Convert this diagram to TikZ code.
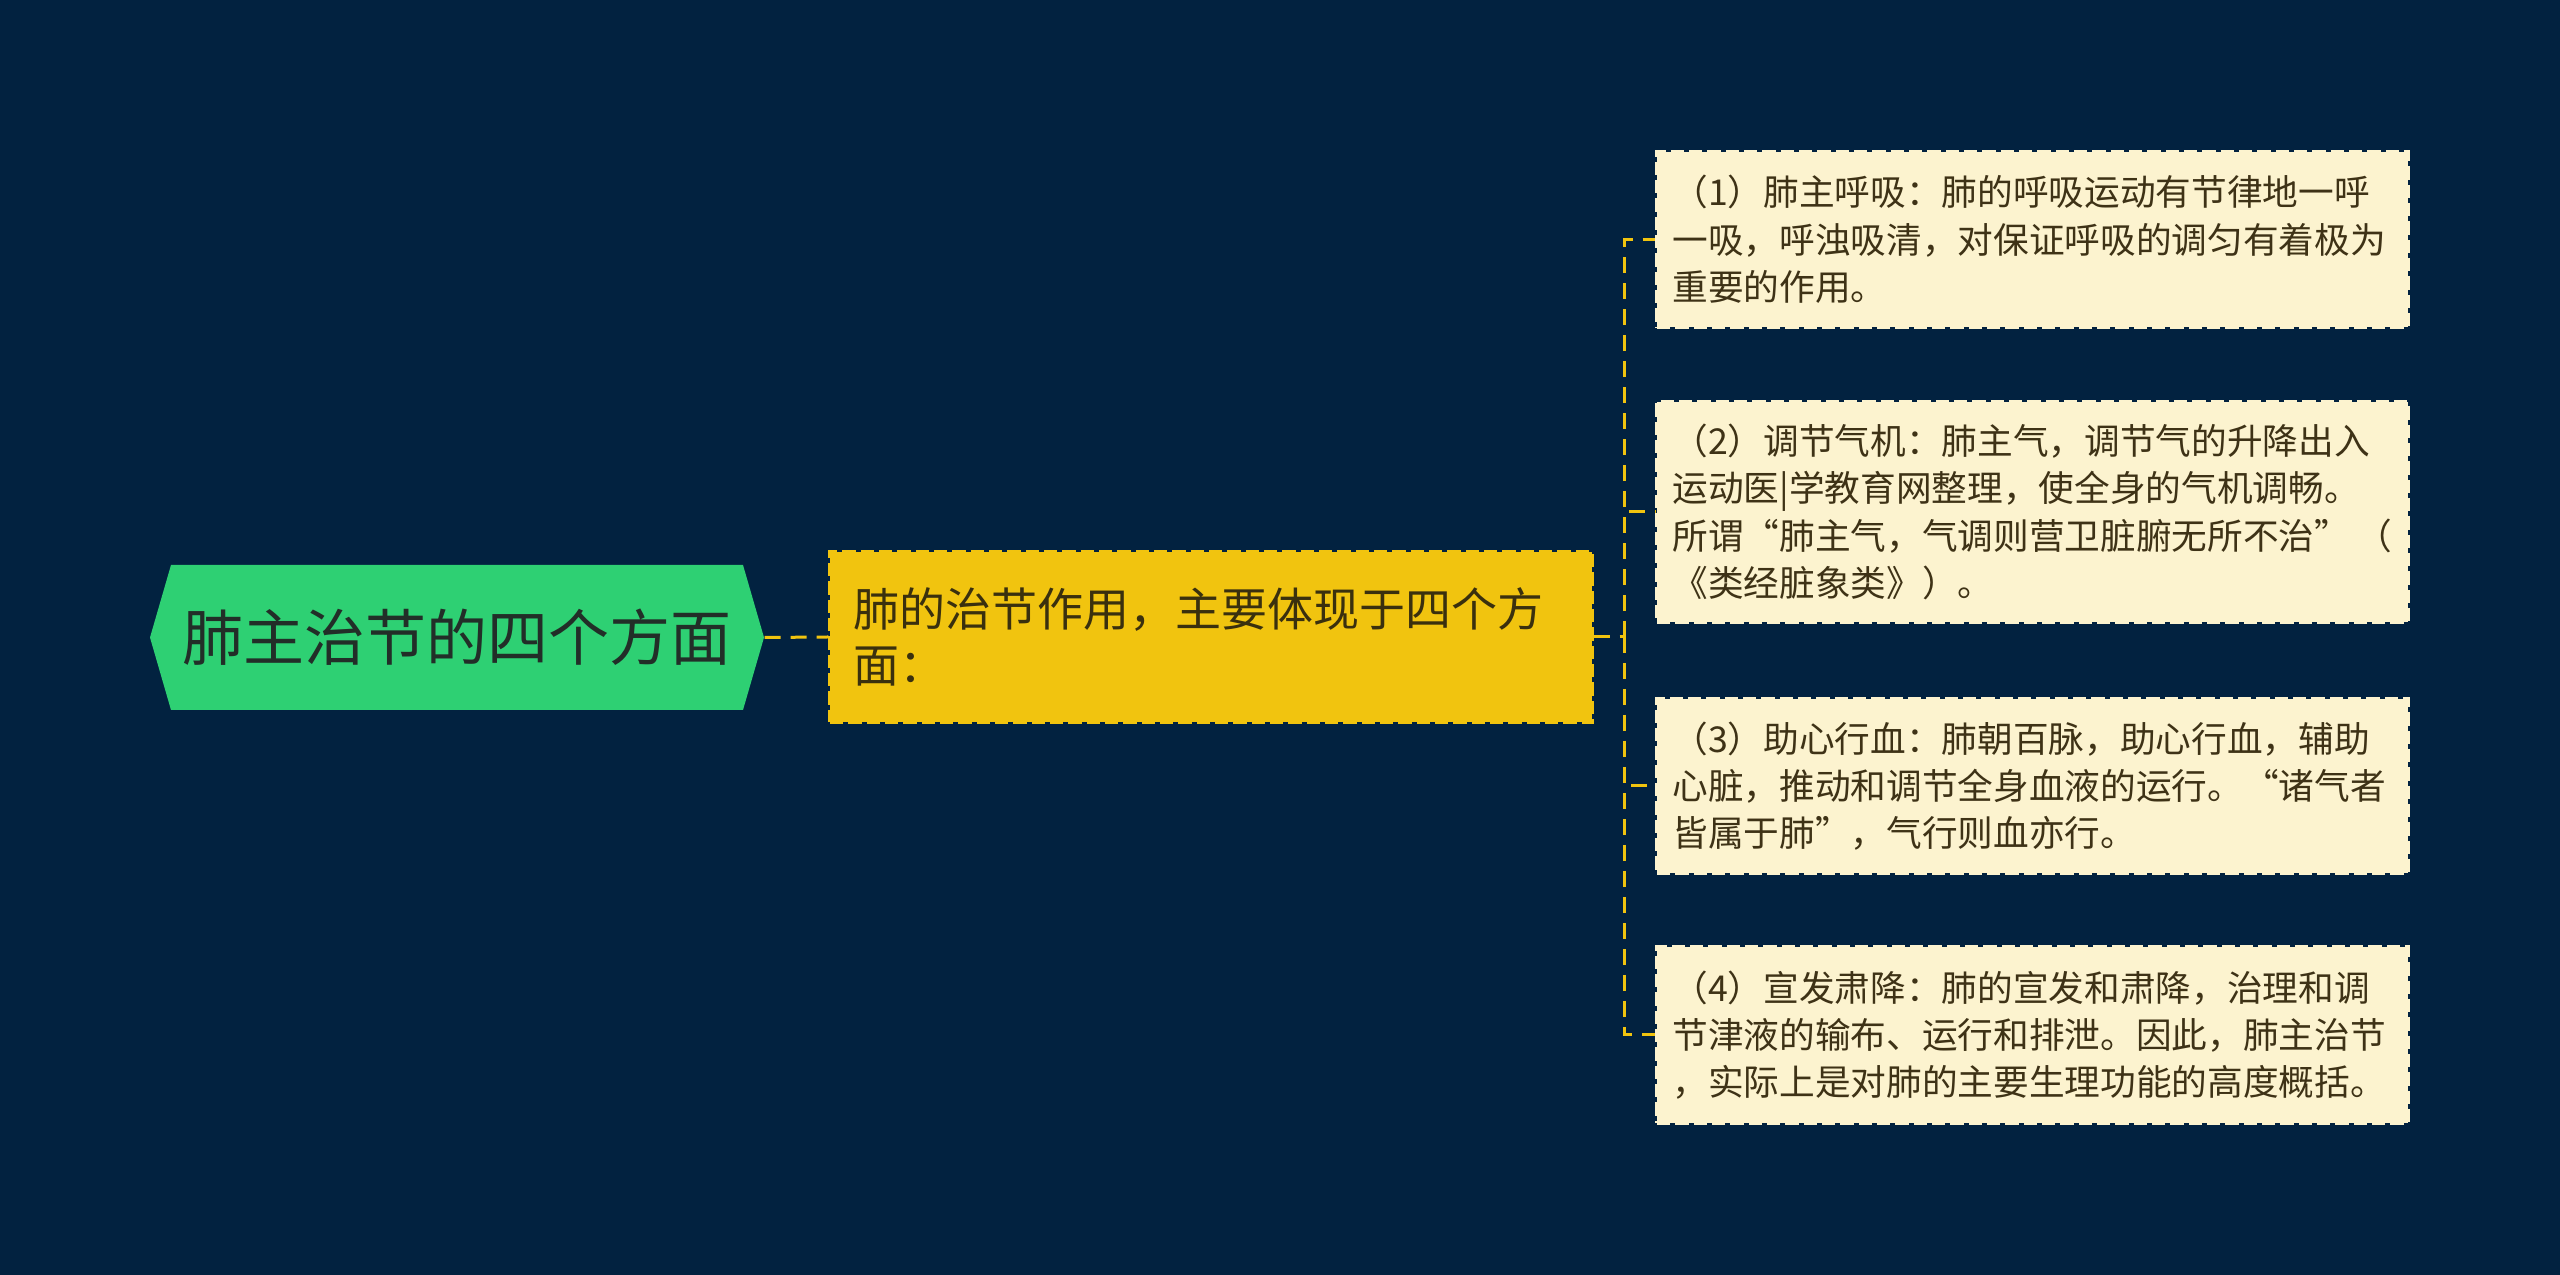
\documentclass[tikz,border=0pt]{standalone}
\usepackage{fontspec}
\setmainfont{Noto Sans CJK SC}
\usetikzlibrary{calc}
\definecolor{bg}{RGB}{2,34,64}
\definecolor{rootgreen}{RGB}{46,208,115}
\definecolor{roottext}{RGB}{34,46,40}
\definecolor{midyellow}{RGB}{241,196,15}
\definecolor{midtext}{RGB}{58,48,14}
\definecolor{leafcream}{RGB}{252,243,207}
\definecolor{leaftext}{RGB}{62,50,22}
\definecolor{linkyellow}{RGB}{241,196,15}
\tikzset{
  rootnode/.style={minimum width=184.2pt, minimum height=43.5pt, inner sep=0pt,
    text=roottext, font=\fontsize{18.3pt}{22pt}\selectfont},
  midnode/.style={fill=midyellow, draw=midyellow, line width=1pt, dash pattern=on 4pt off 1.5pt,
    minimum width=228.6pt, minimum height=51pt, text width=214.8pt, inner xsep=6.9pt, inner ysep=0pt,
    align=left, text=midtext, font=\fontsize{13.8pt}{16.6pt}\selectfont},
  leafnode/.style={fill=leafcream, draw=leafcream, line width=1pt, dash pattern=on 4pt off 1.5pt,
    text width=216pt, inner xsep=4.65pt, inner ysep=0pt,
    align=left, text=leaftext, font=\fontsize{10.7pt}{14.2pt}\selectfont},
  link/.style={draw=linkyellow, line width=0.9pt, dash pattern=on 4.8pt off 3pt}
}
\begin{document}
\begin{tikzpicture}[x=0.3pt,y=-0.3pt]
\fill[bg] (0,0) rectangle (2560,1275);
\useasboundingbox (0,0) rectangle (2560,1275);
% root hexagon
\fill[rootgreen] (150,637.5) -- (171,565) -- (743,565) -- (764,637.5) -- (743,710) -- (171,710) -- cycle;
\node[rootnode] (root) at (457,637.5) {肺主治节的四个方面};
% middle
\node[midnode] (mid) at (1211,637) {肺的治节作用，主要体现于四个方\\面：};
% leaves
\node[leafnode, minimum height=52.5pt] (b1) at (2032.5,239.5) {（1）肺主呼吸：肺的呼吸运动有节律地一呼\\一吸，呼浊吸清，对保证呼吸的调匀有着极为\\重要的作用。};
\node[leafnode, minimum height=66pt] (b2) at (2032.5,512) {（2）调节气机：肺主气，调节气的升降出入\\运动医|学教育网整理，使全身的气机调畅。\\所谓“肺主气，气调则营卫脏腑无所不治”\hfill（\\《类经脏象类》）。};
\node[leafnode, minimum height=52.2pt] (b3) at (2032.5,786) {（3）助心行血：肺朝百脉，助心行血，辅助\\心脏，推动和调节全身血液的运行。“诸气者\\皆属于肺”，气行则血亦行。};
\node[leafnode, minimum height=52.8pt] (b4) at (2032.5,1035) {（4）宣发肃降：肺的宣发和肃降，治理和调\\节津液的输布、运行和排泄。因此，肺主治节\\，实际上是对肺的主要生理功能的高度概括。};
% connectors
\coordinate (trunk) at (1624,637);
\draw[link] (root.east) -- (mid.west);
\draw[link] (mid.east) -- (trunk);
\draw[link] (trunk) |- (b1.west);
\draw[link] (trunk) |- (b2.west);
\draw[link] (trunk) |- (b3.west);
\draw[link] (trunk) |- (b4.west);
\end{tikzpicture}
\end{document}
